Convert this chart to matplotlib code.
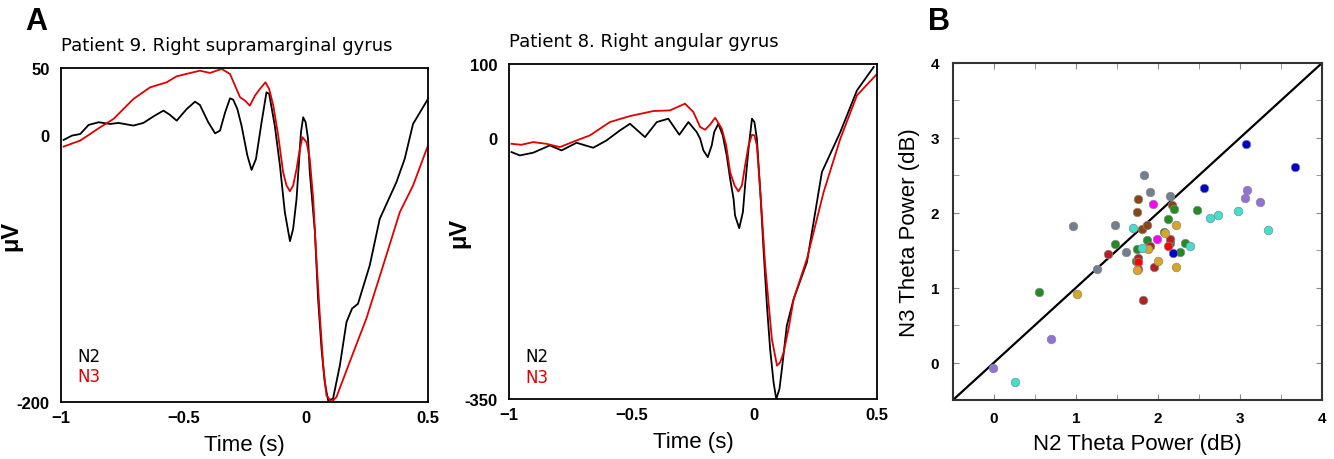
import numpy as np
import matplotlib.pyplot as plt

plt.rcParams['font.family'] = ['Liberation Sans', 'DejaVu Sans']

# Panel A, patient 9 (time in s, voltage in uV)
p9_n2_t = [-0.989, -0.955, -0.921, -0.887, -0.846, -0.799, -0.765, -0.704, -0.663, -0.620,
           -0.581, -0.555, -0.527, -0.486, -0.452, -0.432, -0.398, -0.370, -0.350, -0.329,
           -0.309, -0.296, -0.279, -0.262, -0.238, -0.221, -0.203, -0.180, -0.160, -0.149,
           -0.126, -0.105, -0.085, -0.064, -0.051, -0.037, -0.030, -0.019, -0.010, 0.000,
           0.010, 0.017, 0.038, 0.051, 0.065, 0.078, 0.092, 0.112, 0.140, 0.167,
           0.190, 0.214, 0.262, 0.303, 0.371, 0.405, 0.439, 0.500]
p9_n2_v = [-3.8, -0.6, 0.6, 7.4, 9.4, 8.1, 8.9, 6.9, 8.9, 14.0,
           18.1, 15.0, 10.6, 19.3, 24.8, 22.3, 9.4, 1.1, 3.1, 16.8,
           27.3, 26.3, 19.3, 6.9, -15.6, -26.3, -18.1, 9.4, 31.8, 30.6,
           6.9, -23.0, -57.9, -79.6, -70.4, -47.9, -28.0, 1.9, 13.1, 9.4,
           -3.1, -28.0, -72.9, -122.8, -160.1, -185.1, -198.8, -197.5, -172.6, -140.2,
           -130.0, -126.5, -97.8, -62.9, -35.5, -18.0, 8.1, 26.8]
p9_n3_t = [-0.989, -0.921, -0.840, -0.785, -0.704, -0.636, -0.568, -0.527, -0.432, -0.391,
           -0.343, -0.309, -0.268, -0.248, -0.228, -0.207, -0.187, -0.164, -0.149, -0.132,
           -0.112, -0.092, -0.078, -0.064, -0.051, -0.037, -0.026, -0.013, 0.004, 0.017,
           0.031, 0.044, 0.058, 0.072, 0.085, 0.106, 0.126, 0.180, 0.248, 0.317,
           0.385, 0.439, 0.500]
p9_n3_v = [-8.8, -4.3, 5.6, 11.9, 26.8, 35.5, 39.3, 43.8, 48.0, 46.3,
           49.3, 45.5, 28.1, 25.6, 21.8, 29.3, 34.3, 39.3, 34.3, 21.8,
           -0.6, -28.0, -38.0, -42.2, -38.0, -25.5, -13.1, -1.8, -5.6, -18.1,
           -47.9, -92.8, -135.2, -172.6, -195.0, -200.0, -196.3, -170.1, -137.7, -97.8,
           -57.9, -38.0, -8.1]

# Panel A, patient 8
p8_n2_t = [-0.990, -0.956, -0.902, -0.834, -0.786, -0.725, -0.657, -0.603, -0.548, -0.507,
           -0.446, -0.398, -0.351, -0.306, -0.269, -0.235, -0.221, -0.208, -0.190, -0.174,
           -0.164, -0.147, -0.129, -0.113, -0.099, -0.085, -0.079, -0.062, -0.047, -0.038,
           -0.024, -0.010, 0.000, 0.010, 0.024, 0.037, 0.051, 0.064, 0.078, 0.089,
           0.102, 0.112, 0.132, 0.160, 0.214, 0.275, 0.350, 0.418, 0.486]
p8_n2_v = [-18.3, -22.8, -19.2, -9.4, -16.1, -5.8, -12.5, -2.7, 10.8, 19.7,
           1.8, 22.0, 26.5, 5.0, 22.0, 8.5, -0.4, -16.1, -25.1, -9.4,
           8.6, 19.7, 4.1, -22.8, -54.2, -81.1, -103.5, -120.5, -99.0, -63.1,
           -13.8, 26.5, 22.0, -0.4, -72.1, -148.3, -224.5, -282.8, -327.6, -350.0,
           -336.5, -309.7, -251.4, -215.5, -166.2, -45.2, 8.5, 64.6, 96.0]
p8_n3_t = [-0.990, -0.950, -0.902, -0.848, -0.793, -0.725, -0.671, -0.589, -0.507, -0.412,
           -0.344, -0.283, -0.249, -0.221, -0.201, -0.181, -0.160, -0.133, -0.115, -0.099,
           -0.081, -0.065, -0.051, -0.038, -0.024, -0.010, 0.000, 0.010, 0.026, 0.044,
           0.071, 0.092, 0.105, 0.119, 0.139, 0.160, 0.214, 0.282, 0.350, 0.418, 0.497]
p8_n3_v = [-7.2, -8.5, -4.9, -7.2, -11.6, -2.7, 4.0, 22.0, 30.1, 36.8,
           37.7, 46.7, 35.5, 15.3, 11.7, 18.4, 27.8, 13.1, -9.4, -45.2,
           -63.1, -71.2, -63.1, -36.3, -9.4, 4.9, 4.1, -9.4, -81.1, -170.7,
           -269.3, -305.2, -300.7, -287.3, -255.9, -215.5, -161.8, -72.1, -0.4, 57.9, 85.7]

# Panel B, N2 vs N3 theta power (dB), grouped by colour
scatter_groups = {
    'slategray': ([1.83, 1.90, 0.96, 1.48, 1.61, 1.26, 2.15], [2.50, 2.28, 1.82, 1.83, 1.48, 1.25, 2.22]),
    'saddlebrown': ([1.76, 1.74, 1.81, 1.87, 2.17], [2.18, 2.01, 1.78, 1.84, 2.11]),
    'magenta': ([1.94, 1.99], [2.12, 1.65]),
    'forestgreen': ([1.86, 1.48, 1.74, 1.73, 0.55, 2.20, 2.48, 2.12, 2.07, 2.15, 2.33, 2.27],
                    [1.63, 1.58, 1.52, 1.35, 0.94, 2.05, 2.04, 1.92, 1.74, 1.59, 1.60, 1.47]),
    'firebrick': ([1.39, 1.90, 1.75, 1.95, 1.82, 2.15], [1.45, 1.56, 1.39, 1.27, 0.83, 1.65]),
    'red': ([1.76, 1.76, 2.12], [1.34, 1.25, 1.56]),
    'goldenrod': ([1.88, 1.74, 2.00, 1.01, 2.22, 2.09, 2.22], [1.51, 1.23, 1.36, 0.92, 1.84, 1.73, 1.27]),
    'turquoise': ([1.70, 1.80, 0.26, 2.63, 2.73, 2.98, 3.34, 2.39],
                  [1.80, 1.53, -0.26, 1.93, 1.97, 2.02, 1.77, 1.56]),
    'mediumpurple': ([0.70, -0.01, 3.09, 3.06, 3.25], [0.32, -0.07, 2.31, 2.20, 2.14]),
    'mediumblue': ([3.07, 3.67, 2.56, 2.18], [2.92, 2.61, 2.33, 1.46]),
}

fig = plt.figure(figsize=(13.34, 4.6), dpi=100)


def erp_panel(rect, n2_t, n2_v, n3_t, n3_v, ylim, title, leg_y):
    ax = fig.add_axes(rect)
    ax.plot(n2_t, n2_v, color='black', lw=1.3)
    ax.plot(n3_t, n3_v, color='#e00000', lw=1.3)
    ax.set_xlim(-1, 0.5)
    ax.set_ylim(*ylim)
    ax.set_xticks([-1, -0.5, 0, 0.5])
    ax.set_xticklabels(['\u22121', '\u22120.5', '0', '0.5'])
    ax.set_yticks([ylim[0], 0, ylim[1]])
    ax.set_yticklabels([str(ylim[0]), '0', str(ylim[1])])
    ax.tick_params(length=0, labelsize=12)
    ax.tick_params(axis='y', pad=8)
    ax.tick_params(axis='x', pad=6)
    for lab in ax.get_xticklabels() + ax.get_yticklabels():
        lab.set_fontweight('bold')
    for s in ax.spines.values():
        s.set_linewidth(1.3)
    ax.set_xlabel('Time (s)', fontsize=16, labelpad=6)
    ax.set_ylabel('\u03bcV', fontsize=17, fontweight='bold', labelpad=-4)
    ax.text(0.0, 1.07, title, transform=ax.transAxes, fontsize=13,
            family='DejaVu Sans', va='center', ha='left')
    ax.text(0.045, leg_y[0], 'N2', transform=ax.transAxes, fontsize=12,
            family='DejaVu Sans', color='black', va='center')
    ax.text(0.045, leg_y[1], 'N3', transform=ax.transAxes, fontsize=12,
            family='DejaVu Sans', color='#e00000', va='center')
    return ax


erp_panel([0.0457, 0.1239, 0.2751, 0.7261], p9_n2_t, p9_n2_v, p9_n3_t, p9_n3_v,
          (-200, 50), 'Patient 9. Right supramarginal gyrus', (0.138, 0.078))
erp_panel([0.3816, 0.1304, 0.2759, 0.7283], p8_n2_t, p8_n2_v, p8_n3_t, p8_n3_v,
          (-350, 100), 'Patient 8. Right angular gyrus', (0.128, 0.066))

# panel B
axb = fig.add_axes([0.7144, 0.1283, 0.2766, 0.7326])
axb.plot([-0.5, 4], [-0.5, 4], color='black', lw=1.6, zorder=1)
for col, (xs, ys) in scatter_groups.items():
    axb.scatter(xs, ys, s=38, color=col, edgecolors='#888888', linewidths=0.5, zorder=2)
axb.set_xlim(-0.5, 4)
axb.set_ylim(-0.5, 4)
axb.set_xticks([0, 1, 2, 3, 4])
axb.set_yticks([0, 1, 2, 3, 4])
axb.set_xticks(np.arange(-0.5, 4.01, 0.5), minor=True)
axb.set_yticks(np.arange(-0.5, 4.01, 0.5), minor=True)
axb.tick_params(which='both', direction='in', top=True, right=True, length=4,
                color='#888888', labelsize=11)
axb.tick_params(axis='x', pad=8)
axb.tick_params(axis='y', pad=10)
for lab in axb.get_xticklabels() + axb.get_yticklabels():
    lab.set_fontweight('bold')
for s in axb.spines.values():
    s.set_linewidth(1.5)
    s.set_color('#333333')
axb.set_xlabel('N2 Theta Power (dB)', fontsize=16, labelpad=6)
axb.set_ylabel('N3 Theta Power (dB)', fontsize=16, labelpad=8)

fig.text(0.019, 0.952, 'A', fontsize=22, fontweight='bold', va='center')
fig.text(0.696, 0.952, 'B', fontsize=22, fontweight='bold', va='center')

plt.savefig('out.png', dpi=100)
